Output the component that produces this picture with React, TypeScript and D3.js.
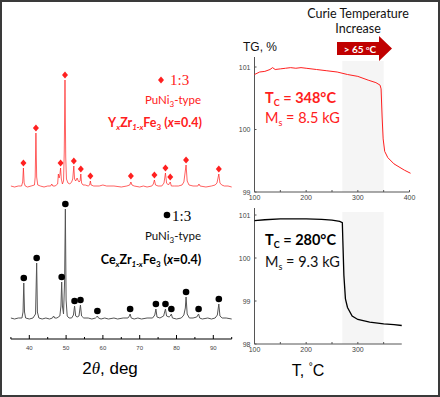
import React from "react";
import * as d3 from "d3";

// ---- XRD data (2θ in deg, intensity in arbitrary units) ----
const redXRD: [number, number][] = [
  [35,1],[36,0],[37,1],[37.9,1],[38.2,5],[38.4,19],[38.6,4],[38.9,1],[39.5,0],[40.5,1],[41.4,2],[41.6,10],[41.8,54],[42.0,10],[42.3,2],[43,1],[44,0],[45,1],[45.8,1],[46.1,3],[46.4,1],[47,1],[47.7,3],[47.9,13],[48.1,9],[48.3,12],[48.5,19],[48.7,8],[49.0,3],[49.3,6],[49.5,35],[49.7,107],[49.9,30],[50.1,8],[50.5,4],[51.0,3],[51.5,5],[51.8,8],[52.1,21],[52.3,8],[52.6,6],[53.0,9],[53.2,7],[53.5,5],[53.8,6],[54.0,13],[54.2,4],[54.6,2],[55.2,2],[56.0,1],[56.4,2],[56.6,6],[56.8,2],[57.5,1],[59,1],[60,2],[61,1],[63,1],[65,0],[66.5,1],[67.3,2],[67.6,5],[67.9,2],[68.5,1],[70,0],[71,1],[72,0],[73.3,1],[73.7,3],[74.0,7],[74.3,2],[75,1],[76,1],[76.6,4],[77.0,14],[77.3,4],[77.8,2],[78.3,5],[78.6,1],[79.5,1],[80.5,1],[81.5,2],[82.0,5],[82.6,22],[82.9,6],[83.4,2],[84.5,1],[85.8,1],[86.1,3],[86.4,1],[88,0],[89.5,1],[90.5,2],[91.0,4],[91.5,13],[91.8,4],[92.3,2],[93,1],[94,1],[95,0]
];
const blackXRD: [number, number][] = [
  [35,2],[36,1],[37,2],[38.0,2],[38.3,8],[38.5,37],[38.7,8],[39.0,2],[40,1],[41,2],[41.7,6],[42.0,57],[42.2,8],[42.6,2],[43.5,1],[44.5,2],[45.5,1],[46.3,2],[46.6,4],[46.9,2],[47.5,2],[48.3,4],[48.6,14],[48.8,38],[49.0,14],[49.3,6],[49.6,40],[49.8,111],[50.0,20],[50.3,4],[50.8,2],[51.5,2],[52.0,5],[52.3,14],[52.6,4],[53.0,3],[53.5,4],[53.9,15],[54.2,4],[54.8,2],[56,2],[57,1],[58.0,2],[58.3,3],[58.5,4],[58.8,2],[59.5,1],[60.5,2],[61.5,1],[63,2],[64,1],[65.5,2],[66.8,2],[67.2,4],[67.4,6],[67.7,2],[68.5,1],[69.5,2],[70.5,1],[72,2],[73.5,2],[74.1,5],[74.4,11],[74.7,3],[75.5,2],[76.5,4],[77.0,11],[77.3,4],[78.0,3],[78.3,4],[78.6,6],[78.9,2],[80,1],[81.3,2],[82.0,5],[82.4,12],[82.6,23],[82.9,6],[83.5,2],[84.5,2],[85.5,3],[86.0,6],[86.3,2],[87,1],[88.5,2],[89.5,1],[90.5,2],[91.1,5],[91.5,16],[91.8,4],[92.4,2],[93.5,2],[95,1]
];
const redMarkers: [number, number][] = [
  [38.4,24],[41.8,59],[48.5,24],[49.7,112],[52.1,26],[54.0,18],[56.6,11],[67.6,11],[74.0,12],[77.0,19],[78.3,10],[82.6,27],[91.5,18]
];
const blackMarkers: [number, number][] = [
  [38.5,42],[42.0,62],[48.8,43],[49.8,116],[52.3,19],[53.9,20],[58.5,9],[67.4,11],[74.4,16],[77.0,16],[78.6,11],[82.6,28],[86.0,11],[91.5,21]
];
const xrdMajorTicks = [40, 50, 60, 70, 80, 90];
const xrdMinorTicks = [35, 45, 55, 65, 75, 85, 95];

// ---- TG data (T in °C, TG in %) ----
const redTG: [number, number][] = [
  [100,100.88],[110,100.92],[120,100.93],[130,100.96],[135,100.99],[140,100.96],[150,100.97],[160,100.98],[170,100.99],[180,100.98],[190,100.99],[200,100.98],[220,100.96],[240,100.94],[260,100.92],[280,100.88],[300,100.85],[320,100.79],[335,100.75],[343,100.71],[345,100.65],[347,100.2],[349,99.85],[352,99.65],[358,99.55],[370,99.45],[390,99.35],[402,99.3]
];
const blackTG: [number, number][] = [
  [100,100.87],[120,100.89],[150,100.91],[180,100.91],[200,100.91],[230,100.9],[250,100.88],[265,100.85],[270,100.82],[271,100.4],[273,99.6],[276,99.05],[280,98.85],[289,98.65],[300,98.57],[323,98.51],[350,98.47],[370,98.45],[385,98.43]
];
const tgTopYTicks = [99, 100, 101];
const tgTopXTicks = [100, 200, 300, 400];
const tgBotYTicks = [98, 99, 100, 101];
const tgBotXTicks = [100, 200, 300];
const shadeRange = [270, 350];

const RED = "#ff2020";
const SANS = "Lato, 'Open Sans', sans-serif";
const ARIAL = "'Liberation Sans', Arial, sans-serif";

export default function App() {
  const xX = d3.scaleLinear().domain([35, 95]).range([10.9, 231.7]);
  const yR = d3.scaleLinear().domain([0, 107]).range([187, 80]);
  const yB = d3.scaleLinear().domain([0, 111]).range([320, 209]);
  const lineR = d3.line<[number, number]>().x(d => xX(d[0])).y(d => yR(d[1]));
  const lineB = d3.line<[number, number]>().x(d => xX(d[0])).y(d => yB(d[1]));

  const tX = d3.scaleLinear().domain([100, 400]).range([254.5, 409.5]);
  const tY1 = d3.scaleLinear().domain([99, 101.16]).range([192, 57]);
  const tY2 = d3.scaleLinear().domain([98, 101.07]).range([344, 212]);
  const lineT1 = d3.line<[number, number]>().x(d => tX(d[0])).y(d => tY1(d[1]));
  const lineT2 = d3.line<[number, number]>().x(d => tX(d[0])).y(d => tY2(d[1]));

  const xrdAxisY = 339;
  const diamond = "M0,-3.6L3,0L0,3.6L-3,0Z";

  const tgAxes = (yS: d3.ScaleLinear<number, number>, yTicks: number[], xTicks: number[], xEnd: number, yTop: number, yBot: number) => (
    <g>
      <rect x={tX(shadeRange[0])} width={tX(shadeRange[1]) - tX(shadeRange[0])} y={yTop} height={yBot - yTop} fill="#f5f5f5" />
      <line x1={tX(100)} x2={tX(100)} y1={yTop - 4} y2={yBot} stroke="#555" strokeWidth={1} />
      <line x1={tX(100)} x2={tX(xEnd)} y1={yBot} y2={yBot} stroke="#555" strokeWidth={1} />
      {yTicks.map(v => (
        <g key={"y" + v}>
          <line x1={tX(100)} x2={tX(100) + 2} y1={yS(v)} y2={yS(v)} stroke="#555" />
          <text x={tX(100) - 4} y={yS(v) + 2.5} fontSize={7} textAnchor="end" fontFamily={ARIAL} fill="#444">{v}</text>
        </g>
      ))}
      {d3.range(100, xEnd + 1, 50).map(v => (
        <line key={"xt" + v} x1={tX(v)} x2={tX(v)} y1={yBot} y2={yBot - 2} stroke="#555" />
      ))}
      {xTicks.map(v => (
        <text key={"x" + v} x={tX(v)} y={yBot + 8} fontSize={7} textAnchor="middle" fontFamily={ARIAL} fill="#444">{v}</text>
      ))}
    </g>
  );

  return (
    <svg width={440} height={397} style={{ position: "absolute", left: 0, top: 0, background: "#fff" }}>
      <rect x={0} y={0} width={440} height={397} fill="#fff" />

      {/* XRD patterns */}
      <path d={lineR(redXRD) || ""} fill="none" stroke={RED} strokeWidth={1} strokeOpacity={0.7} />
      <path d={lineB(blackXRD) || ""} fill="none" stroke="#555" strokeWidth={1} />
      {redMarkers.map((m, i) => (
        <path key={"rm" + i} d={diamond} transform={`translate(${xX(m[0])},${yR(m[1])})`} fill={RED} />
      ))}
      {blackMarkers.map((m, i) => (
        <circle key={"bm" + i} cx={xX(m[0])} cy={yB(m[1])} r={3.3} fill="#000" />
      ))}

      {/* XRD axis */}
      <line x1={xX(35)} x2={xX(95)} y1={xrdAxisY} y2={xrdAxisY} stroke="#000" strokeWidth={1} />
      {xrdMajorTicks.map(v => (
        <g key={"mj" + v}>
          <line x1={xX(v)} x2={xX(v)} y1={xrdAxisY} y2={xrdAxisY - 4} stroke="#000" />
          <text x={xX(v)} y={xrdAxisY + 11} fontSize={6} textAnchor="middle" fontFamily={ARIAL} fill="#444">{v}</text>
        </g>
      ))}
      {xrdMinorTicks.map(v => (
        <line key={"mn" + v} x1={xX(v)} x2={xX(v)} y1={xrdAxisY} y2={xrdAxisY - 2} stroke="#000" />
      ))}
      <text x={110} y={374} fontSize={17} textAnchor="middle" fontFamily={ARIAL} fill="#000">2<tspan fontStyle="italic" fontFamily="'Liberation Serif', serif">θ</tspan>, deg</text>

      {/* red legend */}
      <path d={diamond} transform="translate(161,80)" fill={RED} />
      <text x={170} y={85} fontSize={15} fontFamily="'Liberation Serif', serif" fill={RED}>1:3</text>
      <text x={173} y={104} fontSize={11.5} textAnchor="middle" fontFamily={SANS} fill={RED}>PuNi<tspan fontSize={8} dy={3}>3</tspan><tspan dy={-3}>-type</tspan></text>
      <text x={155} y={127} fontSize={12.5} textAnchor="middle" fontFamily={SANS} fontWeight="bold" fill={RED}>
        Y<tspan fontSize={8} dy={3} fontStyle="italic">x</tspan><tspan dy={-3}>Zr</tspan><tspan fontSize={8} dy={3} fontStyle="italic">1-x</tspan><tspan dy={-3}>Fe</tspan><tspan fontSize={8} dy={3}>3</tspan><tspan dy={-3}> (</tspan><tspan fontStyle="italic">x</tspan>=0.4)
      </text>

      {/* black legend */}
      <circle cx={167} cy={215} r={3.3} fill="#000" />
      <text x={172} y={221} fontSize={15} fontFamily="'Liberation Serif', serif" fill="#000">1:3</text>
      <text x={173} y={240} fontSize={11.5} textAnchor="middle" fontFamily={SANS} fill="#111">PuNi<tspan fontSize={8} dy={3}>3</tspan><tspan dy={-3}>-type</tspan></text>
      <text x={151} y={264} fontSize={12.5} textAnchor="middle" fontFamily={SANS} fontWeight="bold" fill="#000">
        Ce<tspan fontSize={8} dy={3} fontStyle="italic">x</tspan><tspan dy={-3}>Zr</tspan><tspan fontSize={8} dy={3} fontStyle="italic">1-x</tspan><tspan dy={-3}>Fe</tspan><tspan fontSize={8} dy={3}>3</tspan><tspan dy={-3}> (</tspan><tspan fontStyle="italic">x</tspan>=0.4)
      </text>

      {/* Curie temperature header + arrow */}
      <text x={358} y={18} fontSize={12.5} textAnchor="middle" fontFamily={SANS} fill="#111">Curie Temperature</text>
      <text x={358} y={33} fontSize={12.5} textAnchor="middle" fontFamily={SANS} fill="#111">Increase</text>
      <path d="M337,42L379,42L379,36L392,48.5L379,61L379,55L337,55Z" fill="#c00000" />
      <text x={360} y={52.5} fontSize={10} textAnchor="middle" fontFamily={SANS} fontWeight="bold" fill="#fff">&gt; 65 <tspan fontSize={6} dy={-3}>o</tspan><tspan dy={3}>C</tspan></text>
      <text x={243} y={51} fontSize={12} fontFamily={ARIAL} fill="#111">TG, %</text>

      {/* TG top */}
      {tgAxes(tY1, tgTopYTicks, tgTopXTicks, 400, 61, 192)}
      <path d={lineT1(redTG) || ""} fill="none" stroke={RED} strokeWidth={1} />
      <text x={265} y={103} fontSize={14.5} fontFamily={SANS} fontWeight="bold" fill={RED}>T<tspan fontSize={9} dy={3}>C</tspan><tspan dy={-3}> = 348°C</tspan></text>
      <text x={265} y={123} fontSize={14.5} fontFamily={SANS} fill={RED}>M<tspan fontSize={9} dy={3}>s</tspan><tspan dy={-3}> = 8.5 kG</tspan></text>

      {/* TG bottom */}
      {tgAxes(tY2, tgBotYTicks, tgBotXTicks, 385, 212, 344)}
      <path d={lineT2(blackTG) || ""} fill="none" stroke="#000" strokeWidth={1.3} />
      <text x={265} y={245} fontSize={14.5} fontFamily={SANS} fontWeight="bold" fill="#000">T<tspan fontSize={9} dy={3}>C</tspan><tspan dy={-3}> = 280°C</tspan></text>
      <text x={265} y={267} fontSize={14.5} fontFamily={SANS} fill="#111">M<tspan fontSize={9} dy={3}>s</tspan><tspan dy={-3}> = 9.3 kG</tspan></text>
      <text x={308} y={376} fontSize={16} textAnchor="middle" fontFamily={ARIAL} fill="#000">T, <tspan fontSize={10} dy={-6}>°</tspan><tspan dy={6}>C</tspan></text>

      {/* frame */}
      <rect x={1} y={1} width={438} height={395} fill="none" stroke="#3a3a3a" strokeWidth={2} />
    </svg>
  );
}
